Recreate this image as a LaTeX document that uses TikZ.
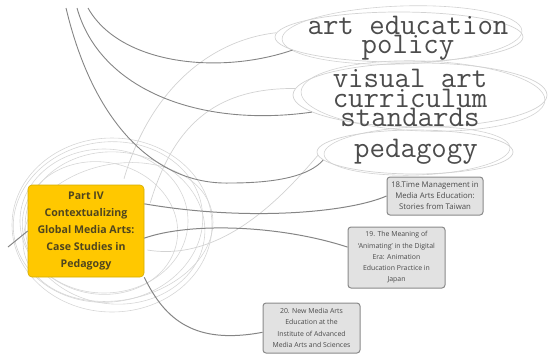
\documentclass[tikz,border=0pt]{standalone}
\usepackage{fontspec}
\setsansfont{Open Sans}
\usetikzlibrary{shapes.geometric}
\definecolor{partyellow}{HTML}{FFC800}
\definecolor{partborder}{HTML}{D4AC00}
\definecolor{parttext}{HTML}{4F451E}
\definecolor{chapfill}{HTML}{E2E2E2}
\definecolor{chapdraw}{HTML}{8A8A8A}
\definecolor{chaptext}{HTML}{4A4A4A}
\definecolor{monotext}{HTML}{4C4C4C}
\definecolor{darkline}{HTML}{858585}
\definecolor{lightline}{HTML}{D2D2D2}
\definecolor{ringline}{HTML}{D6D6D6}
\tikzset{
  partbox/.style={draw=partborder, line width=0.6pt, fill=partyellow, rounded corners=4pt,
    minimum width=116pt, minimum height=92pt, inner sep=0pt, align=center,
    text=parttext, font=\sffamily\bfseries\fontsize{10.6}{16.8}\selectfont},
  chapbox/.style={draw=chapdraw, line width=1pt, fill=chapfill, rounded corners=3pt,
    minimum width=97pt, inner sep=0pt, align=center,
    text=chaptext, font=\sffamily\fontsize{6.9}{11.2}\selectfont},
  sketchell/.style={ellipse, draw=lightline, line width=0.7pt, inner sep=0pt},
  sketchextra/.style={draw=lightline, line width=0.6pt},
  monolabel/.style={align=center, text=monotext, inner sep=0pt,
    font=\ttfamily\fontsize{30}{19.2}\selectfont},
  darkconn/.style={draw=darkline, line width=0.9pt},
  lightconn/.style={draw=lightline, line width=0.7pt},
  boxconn/.style={draw=darkline, line width=1pt},
  ring/.style={draw=ringline, line width=0.6pt}
}
\begin{document}
\begin{tikzpicture}[x=1pt,y=-1pt]
\useasboundingbox (0,0) rectangle (551,357);

% sketchy rings around the part box
\draw[ring] (112,225) ellipse [x radius=100pt, y radius=87pt];
\draw[ring, rotate around={8:(108,222)}] (108,222) ellipse [x radius=95pt, y radius=80pt];
\draw[ring, rotate around={-6:(115,228)}] (115,228) ellipse [x radius=90pt, y radius=76pt];
\draw[ring] (104,221) ellipse [x radius=84pt, y radius=72pt];
\draw[ring, rotate around={12:(118,232)}] (118,232) ellipse [x radius=96pt, y radius=68pt];
\draw[ring, rotate around={-10:(100,228)}] (100,228) ellipse [x radius=78pt, y radius=66pt];

% topic ellipses
\node[sketchell, minimum width=248pt, minimum height=50pt] (e1) at (399,37) {};
\draw[sketchextra, rotate around={2:(402,35)}] (402,35) ellipse [x radius=120pt, y radius=29pt];
\node[sketchell, minimum width=254pt, minimum height=64pt] (e2) at (420,95) {};
\draw[sketchextra, rotate around={-2:(423,96)}] (423,96) ellipse [x radius=122pt, y radius=35pt];
\node[sketchell, minimum width=196pt, minimum height=44pt] (e3) at (415,152) {};
\draw[sketchextra, rotate around={2:(417,151)}] (417,151) ellipse [x radius=93pt, y radius=24pt];

\node[monolabel] (t1) at (408,38) {art education\\policy};
\node[monolabel] (t2) at (410,98) {visual art\\curriculum\\standards};
\node[monolabel] (t3) at (416,152) {pedagogy};

% free ends of top connectors
\coordinate (topa) at (88,8);
\coordinate (topb) at (77,8);
\coordinate (topc) at (66,8);
\coordinate (leftend) at (8,247);

% part box and chapter boxes
\node[partbox] (yb) at (86,231) {Part IV\\Contextualizing\\Global Media Arts:\\Case Studies in\\Pedagogy};
\node[chapbox, minimum height=38pt, minimum width=96pt, font=\sffamily\fontsize{7.8}{11}\selectfont] (b18) at (435,196) {18.Time Management in\\Media Arts Education:\\Stories from Taiwan};
\node[chapbox, minimum height=61pt] (b19) at (396.5,257.5) {19. The Meaning of\\`Animating' in the Digital\\Era: Animation\\Education Practice in\\Japan};
\node[chapbox, minimum height=50pt] (b20) at (311.5,328) {20. New Media Arts\\Education at the\\Institute of Advanced\\Media Arts and Sciences};

% light sketch connectors
\draw[lightconn] (yb.north) ++(38,-6) coordinate (l1s) .. controls (150,90) and (210,40) .. (e1.178);
\draw[lightconn] (yb.north east) ++(6,18) coordinate (l2s) .. controls (175,120) and (220,88) .. (e2.177);
\draw[lightconn] (yb.east) ++(3,19) coordinate (l3s) .. controls (220,262) and (280,200) .. (e3.182);

% dark connectors from the top
\draw[darkconn] (topa) .. controls (120,65) and (220,75) .. (e1.187);
\draw[darkconn] (topb) .. controls (100,90) and (200,128) .. (e2.189);
\draw[darkconn] (topc) .. controls (95,130) and (160,185) .. (230,183) .. controls (280,183) and (310,175) .. (e3.185);

% connectors from the part box
\draw[boxconn] (yb.west) -- (leftend);
\draw[boxconn] (yb.25) .. controls (250,222) and (350,212) .. (b18.west);
\draw[boxconn] (yb.-7) .. controls (190,222) and (280,225) .. (b19.168);
\draw[boxconn] (yb.south east) .. controls (165,320) and (195,345) .. (b20.185);
\end{tikzpicture}
\end{document}
